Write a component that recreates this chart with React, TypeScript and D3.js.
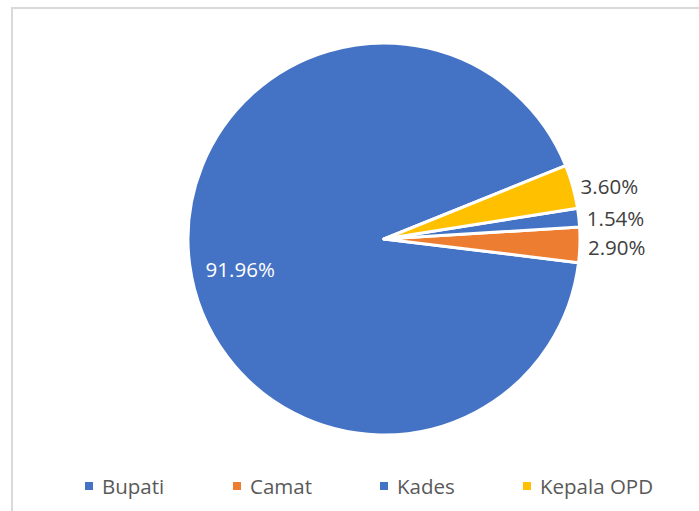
import React from "react";
import * as d3 from "d3";

const categories = ["Bupati", "Camat", "Kades", "Kepala OPD"];
const values = [91.96, 2.9, 1.54, 3.6];
const labels = ["91.96%", "2.90%", "1.54%", "3.60%"];
const colors = ["#4472C4", "#ED7D31", "#4472C4", "#FFC000"];

const W = 699;
const H = 511;
const cx = 384;
const cy = 239;
const R = 196;
const FONT = "'Open Sans', 'Noto Sans', sans-serif";

export default function App() {
  const start = (68 * Math.PI) / 180;
  const pie = d3
    .pie<number>()
    .sort(null)
    .value((d) => d)
    .startAngle(start)
    .endAngle(start - 2 * Math.PI);
  const arcs = pie(values);
  const arc = d3.arc<d3.PieArcDatum<number>>().innerRadius(0).outerRadius(R);
  const outerLabel = d3
    .arc<d3.PieArcDatum<number>>()
    .innerRadius(R + 7)
    .outerRadius(R + 7);
  const innerLabel = d3
    .arc<d3.PieArcDatum<number>>()
    .innerRadius(R * 0.74)
    .outerRadius(R * 0.74);

  const legendX = d3.scalePoint<string>().domain(categories).range([85, 523]);
  const legendOffsets = [0, 2, 3, 0];

  return (
    <svg
      width={W}
      height={H}
      style={{ position: "absolute", left: 0, top: 0, background: "#fff" }}
    >
      <rect x={12} y={8} width={W + 20} height={H + 20} fill="#fff" stroke="#D9D9D9" strokeWidth={2} />
      <g transform={`translate(${cx},${cy})`}>
        {arcs.map((a, i) => (
          <path key={i} d={arc(a) || ""} fill={colors[i]} stroke="#fff" strokeWidth={3} strokeLinejoin="round" />
        ))}
        {arcs.map((a, i) => {
          if (i === 0) {
            const [x, y] = innerLabel.centroid(a);
            return (
              <text key={i} x={x} y={y + 11} textAnchor="middle" dominantBaseline="central" fill="#fff" fontFamily={FONT} fontSize={20.5}>
                {labels[i]}
              </text>
            );
          }
          const [x, y] = outerLabel.centroid(a);
          return (
            <text key={i} x={x + 1} y={y + 1.5} textAnchor="start" dominantBaseline="central" fill="#404040" fontFamily={FONT} fontSize={20.5}>
              {labels[i]}
            </text>
          );
        })}
      </g>
      <g>
        {categories.map((c, i) => {
          const x = (legendX(c) || 0) + legendOffsets[i];
          return (
            <g key={c}>
              <rect x={x} y={482} width={8} height={8} fill={colors[i]} />
              <text x={x + 17} y={486} dominantBaseline="central" fill="#595959" fontFamily={FONT} fontSize={20.5}>
                {c}
              </text>
            </g>
          );
        })}
      </g>
    </svg>
  );
}
